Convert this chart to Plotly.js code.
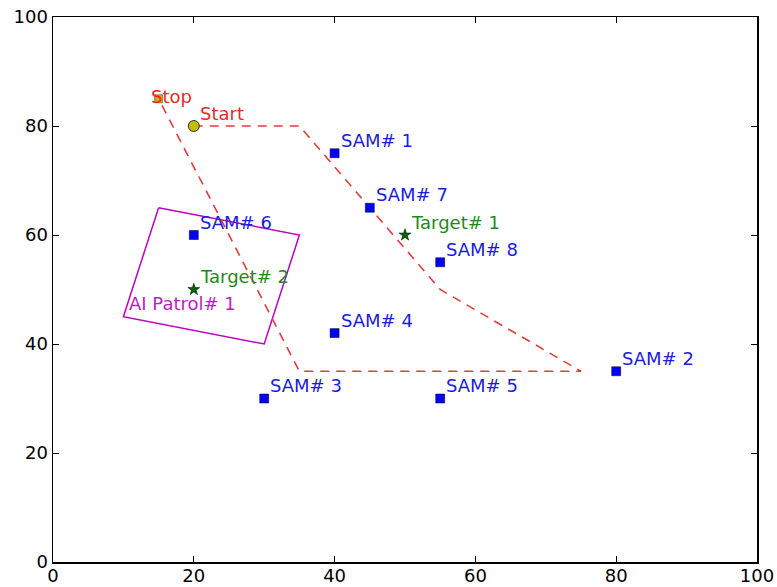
<!DOCTYPE html>
<html>
<head>
<meta charset="utf-8">
<script src="https://cdn.plot.ly/plotly-3.0.1.min.js"></script>
<style>
  html, body { margin: 0; padding: 0; background: #fff; }
  #chart { width: 777px; height: 587px; }
</style>
</head>
<body>
<div id="chart"></div>
<script>
// SAM sites
const samNames = ['SAM# 1', 'SAM# 2', 'SAM# 3', 'SAM# 4', 'SAM# 5', 'SAM# 6', 'SAM# 7', 'SAM# 8'];
const samX = [40, 80, 30, 40, 55, 20, 45, 55];
const samY = [75, 35, 30, 42, 30, 60, 65, 55];

// Targets
const targetNames = ['Target# 1', 'Target# 2'];
const targetX = [50, 20];
const targetY = [60, 50];

// Planned route (waypoints)
const routeX = [20, 35, 55, 75, 35, 15];
const routeY = [80, 80, 50, 35, 35, 85];

// Start / stop points
const startX = [20], startY = [80];
const stopX = [15], stopY = [85];

// Air patrol zone (closed polygon)
const patrolName = 'AI Patrol# 1';
const patrolX = [15, 35, 30, 10, 15];
const patrolY = [65, 60, 40, 45, 65];

const FONT = 'DejaVu Sans, sans-serif';
const FS = 18;

const traces = [
  {
    x: patrolX, y: patrolY, mode: 'lines', type: 'scatter',
    line: { color: '#bf00bf', width: 1.5 }, hoverinfo: 'skip'
  },
  {
    x: routeX, y: routeY, mode: 'lines', type: 'scatter',
    line: { color: '#e83a3a', width: 1.6, dash: '9px,7px' }, hoverinfo: 'skip'
  },
  {
    x: samX, y: samY, mode: 'markers', type: 'scatter',
    marker: { symbol: 'square', size: 9, color: '#0000ff', line: { color: '#000', width: 0.5 } }
  },
  {
    x: targetX, y: targetY, mode: 'markers', type: 'scatter',
    marker: { symbol: 'star', size: 9, color: '#006400', line: { color: '#000', width: 0.5 } }
  },
  {
    x: startX, y: startY, mode: 'markers', type: 'scatter',
    marker: { symbol: 'circle', size: 11, color: '#bfbf00', line: { color: '#333', width: 1 } }
  },
  {
    x: stopX, y: stopY, mode: 'markers', type: 'scatter',
    marker: { symbol: 'square', size: 8, color: '#d8b000', line: { color: '#333', width: 0.5 } }
  }
];

// Labels sit just up-right of each point
function label(text, x, y, color) {
  return {
    x: x, y: y, text: text, showarrow: false,
    xanchor: 'left', yanchor: 'bottom', xshift: -3, yshift: -5,
    font: { family: FONT, size: FS, color: color }
  };
}

const annotations = [];
samNames.forEach((n, i) => annotations.push(label(n, samX[i] + 1, samY[i] + 1, '#1c1cdc')));
targetNames.forEach((n, i) => annotations.push(label(n, targetX[i] + 1, targetY[i] + 1, '#1e8a1e')));
annotations.push(label('Start', startX[0] + 1, startY[0] + 1, '#e52a2a'));
annotations.push(label('Stop', stopX[0] - 1, stopY[0] - 1, '#e52a2a'));
annotations.push(label(patrolName, patrolX[3] + 1, patrolY[3] + 1, '#bf1cbf'));

const axisBase = {
  range: [0, 100], dtick: 20, tick0: 0,
  showgrid: false, zeroline: false,
  showline: true, linecolor: '#000', linewidth: 1.5, mirror: 'ticks',
  ticks: 'inside', ticklen: 6, tickwidth: 1, tickcolor: '#000',
  tickfont: { family: FONT, size: FS, color: '#000' }
};

const layout = {
  width: 777, height: 587,
  margin: { l: 53, r: 20, t: 17, b: 25, pad: 0 },
  paper_bgcolor: '#fff', plot_bgcolor: '#fff',
  showlegend: false,
  xaxis: Object.assign({}, axisBase, { ticklabelstandoff: -3 }),
  yaxis: Object.assign({}, axisBase),
  annotations: annotations
};

Plotly.newPlot('chart', traces, layout, { displayModeBar: false, staticPlot: true });
</script>
</body>
</html>
